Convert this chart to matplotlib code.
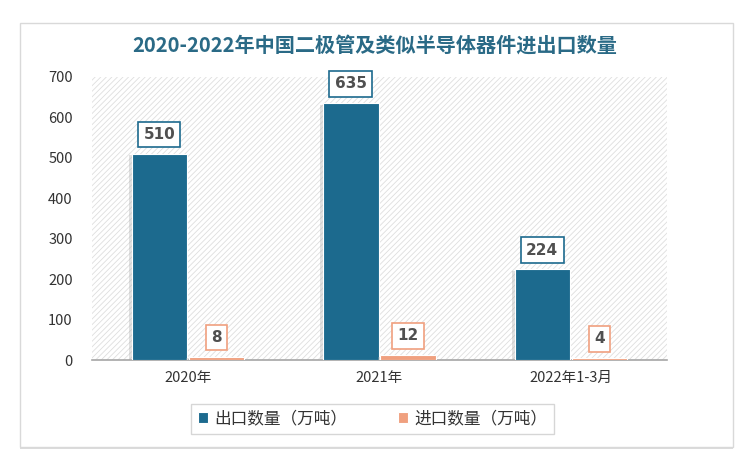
import numpy as np
import matplotlib
matplotlib.use("Agg")
import matplotlib.pyplot as plt
import matplotlib.patheffects as pe
from matplotlib.patches import FancyBboxPatch

plt.rcParams['font.family'] = ['Noto Sans CJK SC', 'DejaVu Sans']
plt.rcParams['hatch.linewidth'] = 0.6

categories = ['2020年', '2021年', '2022年1-3月']
export_vals = [510, 635, 224]
import_vals = [8, 12, 4]
series_names = ['出口数量（万吨）', '进口数量（万吨）']
title = '2020-2022年中国二极管及类似半导体器件进出口数量'

c_exp = '#1c6a8e'
c_imp = '#f0a07f'

fig = plt.figure(figsize=(7.5, 4.61), dpi=100)
fig.patch.set_facecolor('white')

# outer card with soft shadow
card = FancyBboxPatch((0.027, 0.03), 0.95, 0.92, boxstyle='square,pad=0',
                      transform=fig.transFigure, facecolor='white',
                      edgecolor='#d9d9d9', linewidth=1.0, zorder=-5,
                      path_effects=[pe.SimplePatchShadow(offset=(0, -1), shadow_rgbFace='#bbbbbb', alpha=0.5),
                                    pe.Normal()])
fig.patches.append(card)

ax = fig.add_axes([0.123, 0.219, 0.766, 0.614])
ax.patch.set_facecolor('white')
ax.patch.set_hatch('//////')
ax.patch.set_edgecolor('#dedede')

x = np.arange(len(categories))
w = 0.29
shadow = [pe.SimplePatchShadow(offset=(-2, -1), shadow_rgbFace='#aaaaaa', alpha=0.35), pe.Normal()]
b1 = ax.bar(x - w / 2 - 0.005, export_vals, w, color=c_exp, edgecolor='white', linewidth=0.8,
            label=series_names[0], path_effects=shadow, zorder=3)
b2 = ax.bar(x + w / 2 + 0.005, import_vals, w, color=c_imp, edgecolor='white', linewidth=0.8,
            label=series_names[1], path_effects=shadow, zorder=3)

for bars, vals, col in [(b1, export_vals, c_exp), (b2, import_vals, c_imp)]:
    for r, v in zip(bars, vals):
        ax.annotate(str(v), (r.get_x() + r.get_width() / 2, v), xytext=(0, 14),
                    textcoords='offset points', ha='center', va='center',
                    fontsize=11, fontweight='bold', color='#505050', zorder=5,
                    family='DejaVu Sans',
                    bbox=dict(boxstyle='square,pad=0.35', fc='white', ec=col, lw=1.2))

ax.set_xlim(-0.5, 2.5)
ax.set_ylim(0, 700)
ax.set_yticks(range(0, 701, 100))
ax.set_xticks(x)
ax.set_xticklabels(categories)
ax.tick_params(axis='both', length=0, labelsize=10.5, colors='#333333')
ax.tick_params(axis='y', pad=14)
ax.tick_params(axis='x', pad=8)
for s in ['top', 'right', 'left']:
    ax.spines[s].set_visible(False)
ax.spines['bottom'].set_color('#a6a6a6')
ax.spines['bottom'].set_linewidth(1.2)

fig.text(0.5, 0.902, title, ha='center', va='center', fontsize=14.5,
         fontweight='bold', color='#2a6a86')

leg = fig.legend(handles=[b1, b2], loc='center', bbox_to_anchor=(0.497, 0.091), ncol=2,
                 frameon=True, fancybox=False, edgecolor='#cccccc', fontsize=12,
                 handlelength=0.6, handleheight=0.6, handletextpad=0.4, columnspacing=3.0,
                 borderpad=0.4)
for t in leg.get_texts():
    t.set_color('#333333')
for h in leg.legend_handles:
    h.set_path_effects([])

fig.savefig('out.png', dpi=100)
